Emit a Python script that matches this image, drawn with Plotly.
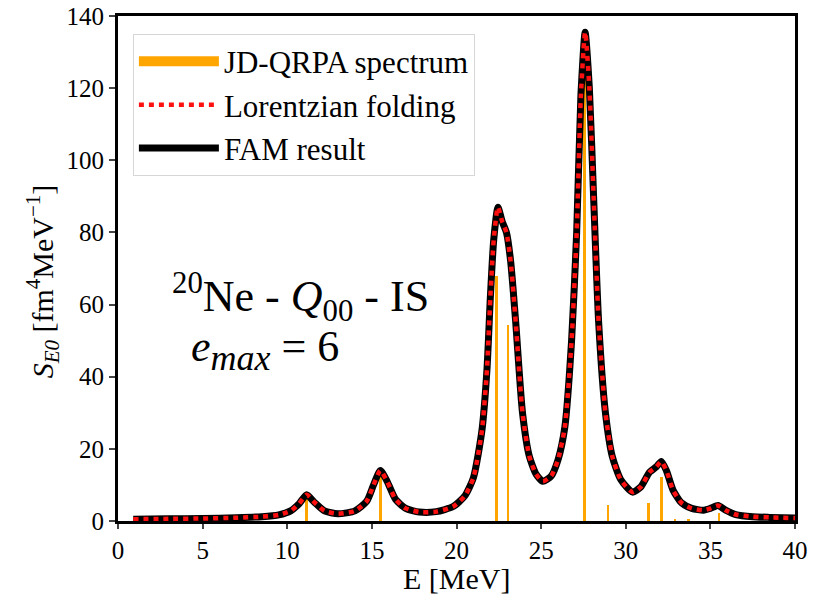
import plotly.graph_objects as go

# JD-QRPA discrete spectrum (bars)
bar_E = [11.15, 15.5, 22.35, 23.05, 27.55, 28.95, 31.35, 32.1, 32.9, 33.7, 35.5]
bar_S = [7.2, 13.3, 68.0, 54.3, 132.0, 4.3, 5.1, 12.3, 0.5, 0.4, 2.2]

# Folded strength curve
curve_E = [0.9, 3.0, 5.0, 7.0, 8.5, 9.5, 10.2, 10.7, 11.15, 11.6, 12.2, 13.0, 14.0, 14.7,
           15.1, 15.5, 15.9, 16.4, 17.0, 17.8, 18.8, 19.8, 20.5, 21.0, 21.5, 21.8, 22.0,
           22.2, 22.45, 22.7, 22.95, 23.2, 23.5, 23.9, 24.3, 24.7, 25.1, 25.6, 26.0, 26.4,
           26.8, 27.1, 27.35, 27.6, 27.85, 28.1, 28.4, 28.8, 29.2, 29.7, 30.4, 30.9, 31.4,
           31.8, 32.1, 32.4, 32.8, 33.3, 33.9, 34.6, 35.0, 35.45, 35.9, 36.5, 37.5, 38.5, 40.0]
curve_S = [0.5, 0.6, 0.7, 0.9, 1.2, 1.7, 2.8, 4.8, 7.3, 5.2, 2.8, 2.0, 2.8, 5.5,
           10.0, 14.0, 11.0, 6.0, 3.5, 2.5, 2.6, 4.0, 7.0, 12.0, 25.0, 42.0, 62.0,
           78.0, 87.0, 83.0, 80.0, 72.0, 55.0, 30.0, 18.0, 13.0, 11.0, 12.5, 17.0, 26.0,
           50.0, 80.0, 118.0, 135.5, 120.0, 90.0, 55.0, 30.0, 18.0, 11.5, 8.0, 9.5, 13.5,
           15.0, 16.5, 14.0, 8.5, 5.0, 3.5, 3.0, 3.5, 4.3, 3.0, 1.8, 1.2, 1.0, 0.8]

x_ticks = [0, 5, 10, 15, 20, 25, 30, 35, 40]
y_ticks = [0, 20, 40, 60, 80, 100, 120, 140]

SERIF = "Liberation Serif, Times New Roman, serif"

fig = go.Figure()
fig.add_trace(go.Bar(x=bar_E, y=bar_S, width=0.15, marker=dict(color="#FFA500", line=dict(width=0)),
                     name="JD-QRPA spectrum", showlegend=False, legendgroup="bars"))
# legend entry for the bar spectrum (broad orange patch)
fig.add_trace(go.Scatter(x=[None], y=[None], mode="lines", line=dict(color="#FFA500", width=20),
                         name="JD-QRPA spectrum", legendrank=1, legendgroup="bars"))
fig.add_trace(go.Scatter(x=curve_E, y=curve_S, mode="lines",
                         line=dict(color="black", width=7, shape="spline", smoothing=0.6),
                         name="FAM result", legendrank=3))
fig.add_trace(go.Scatter(x=curve_E, y=curve_S, mode="lines",
                         line=dict(color="#FF1010", width=4.5, dash="5px,5px", shape="spline", smoothing=0.6),
                         name="Lorentzian folding", legendrank=2))

fig.update_layout(
    width=820, height=594,
    margin=dict(l=118, r=25, t=16, b=73),
    paper_bgcolor="white", plot_bgcolor="white",
    font=dict(family=SERIF, size=25, color="black"),
    showlegend=True,
    legend=dict(x=0.022, y=0.965, xanchor="left", yanchor="top",
                bgcolor="rgba(255,255,255,0.8)", bordercolor="#d6d6d6", borderwidth=1,
                font=dict(size=31, family=SERIF), itemwidth=80, tracegroupgap=0),
    xaxis=dict(range=[0, 40], tickvals=x_ticks, ticks="outside", ticklen=5, tickwidth=1.5,
               showline=True, linecolor="black", linewidth=3, mirror=True, showgrid=False, zeroline=False,
               automargin=False, tickfont=dict(size=25)),
    yaxis=dict(range=[0, 140], tickvals=y_ticks, ticks="outside", ticklen=6, tickwidth=1.5,
               showline=True, linecolor="black", linewidth=3, mirror=True, showgrid=False, zeroline=False,
               automargin=False, tickfont=dict(size=25)),
    bargap=0,
)

# axis titles
fig.add_annotation(x=0.5, y=-0.113, xref="paper", yref="paper", showarrow=False,
                   xanchor="center", yanchor="middle",
                   text="E [MeV]", font=dict(size=30, family=SERIF))
fig.add_annotation(x=-0.112, y=0.475, xref="paper", yref="paper", showarrow=False,
                   xanchor="center", yanchor="middle", textangle=-90,
                   text="<i>S</i><sub><i>E0</i></sub> [fm<sup>4</sup>MeV<sup>−1</sup>]",
                   font=dict(size=30, family=SERIF))

fig.add_annotation(x=10.8, y=62, xref="x", yref="y", showarrow=False,
                   text="<sup>20</sup>Ne - <i>Q</i><sub>00</sub> - IS", font=dict(size=44, family=SERIF))
fig.add_annotation(x=8.7, y=47.5, xref="x", yref="y", showarrow=False,
                   text="<i>e</i><sub><span style='font-size:36px'><i>max</i></span></sub> = 6",
                   font=dict(size=44, family=SERIF))

fig.write_html("out.html")
